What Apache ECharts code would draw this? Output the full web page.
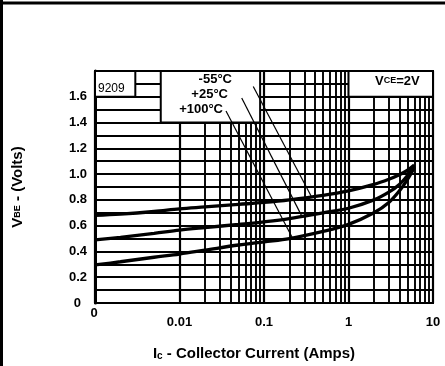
<!DOCTYPE html>
<html>
<head>
<meta charset="utf-8">
<script src="https://cdn.jsdelivr.net/npm/echarts@6/dist/echarts.min.js"></script>
<style>
html,body{margin:0;padding:0;background:#fff;}
#main{width:445px;height:366px;}
</style>
</head>
<body>
<div id="main"></div>
<script>
// collector current, amps
var currents=[0.001,0.002,0.005,0.01,0.02,0.05,0.1,0.2,0.5,1,2,3,4,5,6];
// VBE, volts
var vbeMinus55=[0.68,0.69,0.71,0.73,0.745,0.765,0.78,0.80,0.835,0.87,0.92,0.96,0.995,1.03,1.07];
var vbePlus25=[0.49,0.51,0.54,0.565,0.585,0.61,0.63,0.655,0.70,0.735,0.80,0.86,0.92,0.99,1.06];
var vbePlus100=[0.295,0.32,0.355,0.38,0.41,0.45,0.475,0.50,0.555,0.61,0.70,0.78,0.87,0.96,1.05];
var tempLabels=['-55°C','+25°C','+100°C'];
// leader lines label -> curve
var leader55=[[0.0746,1.68],[0.37,0.816]];
var leader25=[[0.0545,1.59],[0.282,0.67]];
var leader100=[[0.0355,1.49],[0.215,0.51]];
// log grid lines 2..9 of each decade
var minorGrid=[0.002,0.003,0.004,0.005,0.006,0.007,0.008,0.009,
	0.02,0.03,0.04,0.05,0.06,0.07,0.08,0.09,
	0.2,0.3,0.4,0.5,0.6,0.7,0.8,0.9,
	2,3,4,5,6,7,8,9];

function pairs(xs,ys){
	var out=[];
	for(var i=0;i<xs.length;i++){ out.push([xs[i],ys[i]]); }
	return out;
}

var chart=echarts.init(document.getElementById('main'));
var font='"Liberation Sans", Arial, sans-serif';

function curve(name,ys){
	return {
		name:name,type:'line',data:pairs(currents,ys),smooth:0.35,
		symbol:'none',z:4,lineStyle:{color:'#000',width:3.3}
	};
}
function leader(pts){
	return {
		type:'line',data:pts,symbol:'none',z:10,silent:true,
		lineStyle:{color:'#000',width:1.2}
	};
}

var option={
	backgroundColor:'#fff',
	animation:false,
	grid:{left:95,right:12,top:71,bottom:59,show:true,borderColor:'#000',borderWidth:2,backgroundColor:'transparent'},
	xAxis:{
		type:'log',logBase:10,min:0.001,max:10,
		name:'I{s|c} - Collector Current (Amps)',
		nameLocation:'middle',nameGap:43,
		nameTextStyle:{
			color:'#000',fontFamily:font,fontSize:15,fontWeight:'bold',padding:[0,20,0,0],
			rich:{s:{fontSize:10,fontFamily:font,fontWeight:'bold',color:'#000',verticalAlign:'bottom'}}
		},
		axisLine:{show:true,lineStyle:{color:'#000',width:2}},
		axisTick:{show:false},
		splitLine:{show:true,lineStyle:{color:'#000',width:2.2}},
		axisLabel:{
			color:'#000',fontFamily:font,fontSize:13,fontWeight:'bold',margin:13,
			formatter:function(v){ return v<0.005?'':String(v); }
		}
	},
	yAxis:{
		type:'value',min:0,max:1.8,interval:0.1,
		name:'V{s|BE} - (Volts)',
		nameLocation:'middle',nameRotate:90,nameGap:70,
		nameTextStyle:{
			color:'#000',fontFamily:font,fontSize:15,fontWeight:'bold',
			rich:{s:{fontSize:9,fontFamily:font,fontWeight:'bold',color:'#000'}}
		},
		axisLine:{show:true,lineStyle:{color:'#000',width:3}},
		axisTick:{show:false},
		splitLine:{show:true,lineStyle:{color:'#000',width:2}},
		axisLabel:{
			color:'#000',fontFamily:font,fontSize:13,fontWeight:'bold',margin:8,
			formatter:function(v){
				var k=Math.round(v*10);
				if(k%2!==0||k>=18){ return ''; }
				if(k===0){ return '{z|0}'; }
				return (k/10).toFixed(1);
			},
			rich:{z:{fontSize:13,fontFamily:font,fontWeight:'bold',color:'#000',padding:[0,6,0,0]}}
		}
	},
	series:[
		{
			type:'line',data:[],silent:true,z:1,
			markLine:{
				silent:true,z:1,symbol:['none','none'],animation:false,
				label:{show:false},
				lineStyle:{color:'#000',width:1.9,type:'solid'},
				data:minorGrid.map(function(v){ return {xAxis:v}; })
			}
		},
		curve(tempLabels[0],vbeMinus55),
		curve(tempLabels[1],vbePlus25),
		curve(tempLabels[2],vbePlus100),
		leader(leader55),
		leader(leader25),
		leader(leader100)
	]
};
chart.setOption(option);

// white label boxes bounded by grid lines
function box(p0,p1){
	var a=chart.convertToPixel({gridIndex:0},p0);
	var b=chart.convertToPixel({gridIndex:0},p1);
	return {
		type:'rect',z:3,silent:true,
		shape:{x:a[0],y:a[1],width:b[0]-a[0],height:b[1]-a[1]},
		style:{fill:'#fff',stroke:'#000',lineWidth:2}
	};
}
function label(text,x,y,align,size,weight){
	return {
		type:'text',z:6,silent:true,x:x,y:y,
		style:{text:text,fill:'#000',font:(weight||'bold')+' '+(size||13)+'px '+font,
			align:align||'left',verticalAlign:'middle',
			rich:{s:{fontSize:9,fontWeight:'bold',fontFamily:font,fill:'#000'}}}
	};
}
chart.setOption({
	graphic:[
		box([0.001,1.8],[0.003,1.6]),
		box([0.006,1.8],[0.09,1.4]),
		box([1,1.8],[10,1.6]),
		label('9209',98,89,'left',12,'normal'),
		label(tempLabels[0],232,79,'right'),
		label(tempLabels[1],228,94,'right'),
		label(tempLabels[2],223,109,'right'),
		label('V{s|CE}=2V',375,81,'left',13),
		label('0',94,313,'center',13),
		{type:'line',z:6,silent:true,shape:{x1:0,y1:3,x2:445,y2:3},style:{stroke:'#000',lineWidth:3}},
		{type:'line',z:6,silent:true,shape:{x1:1.5,y1:0,x2:1.5,y2:366},style:{stroke:'#000',lineWidth:3}}
	]
});
</script>
</body>
</html>
